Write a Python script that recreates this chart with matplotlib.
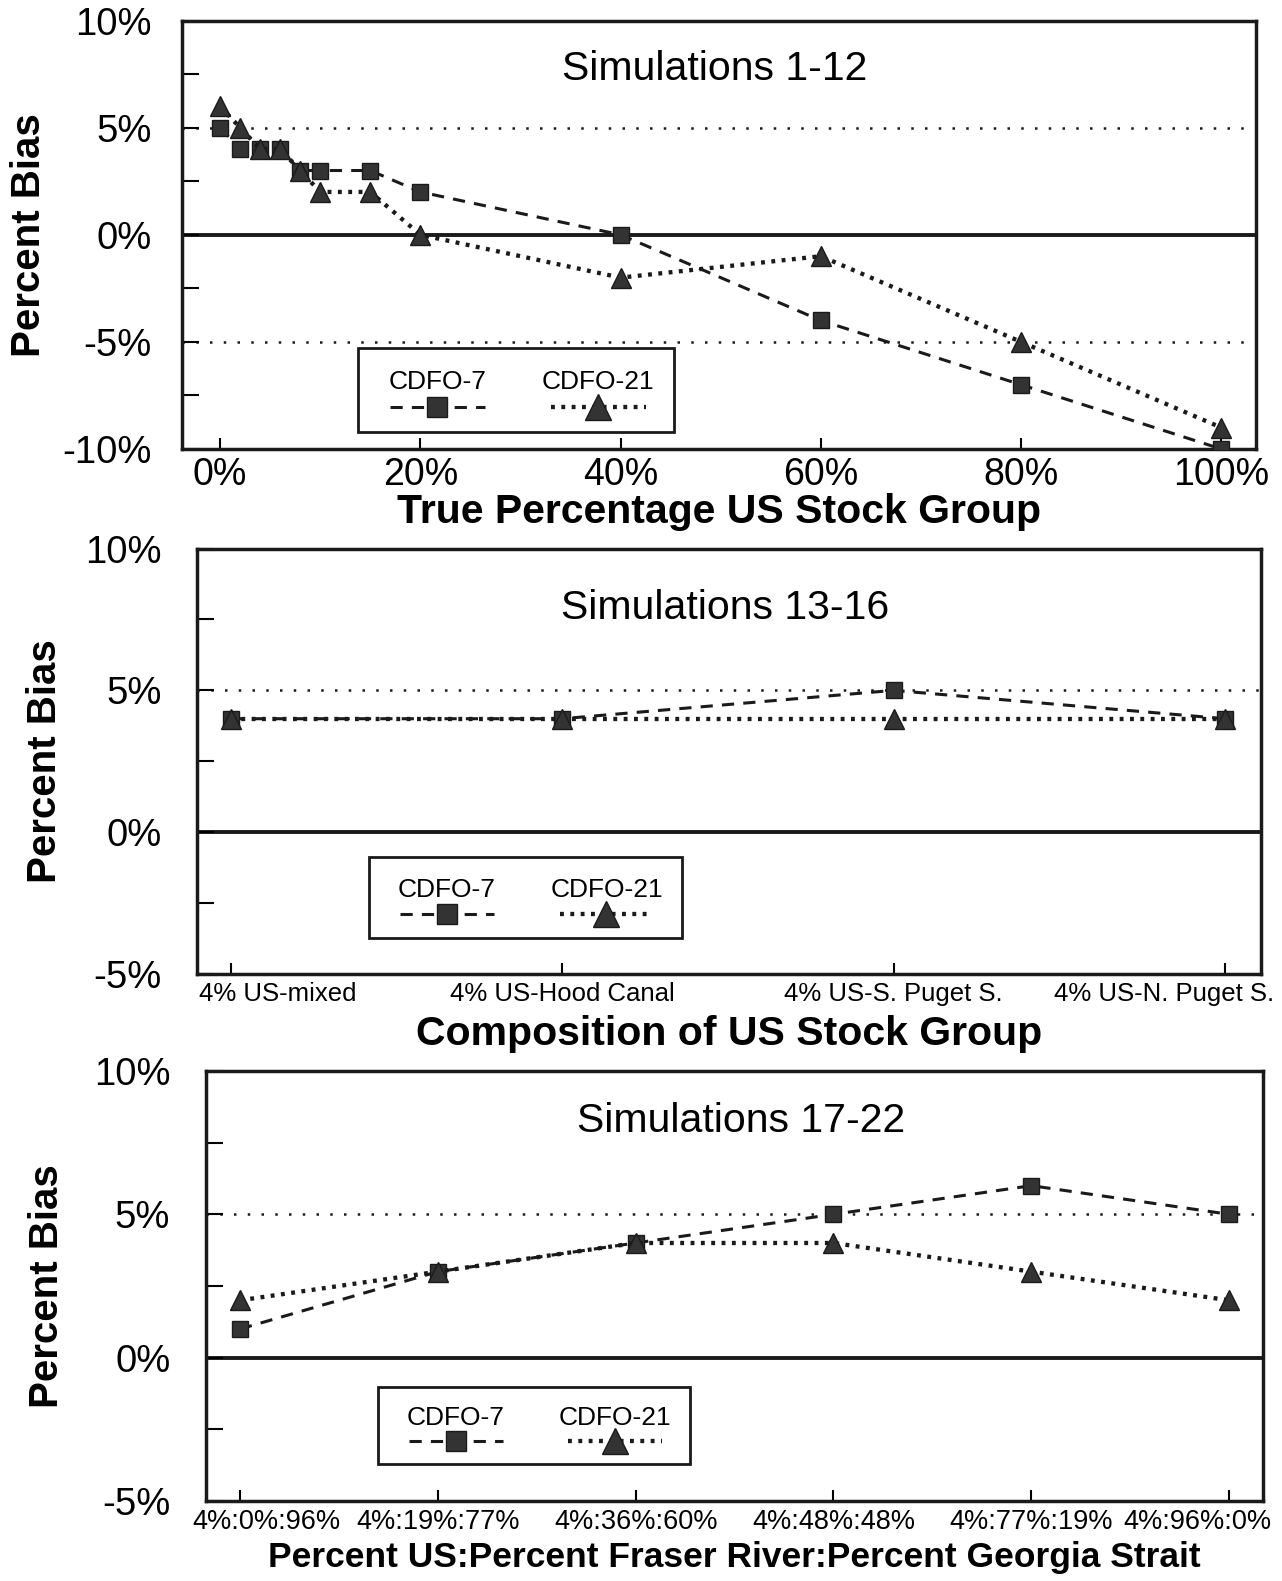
import numpy as np
import matplotlib
matplotlib.use('Agg')
import matplotlib.pyplot as plt
from matplotlib.patches import Rectangle
from matplotlib.ticker import MultipleLocator, FuncFormatter
from matplotlib.transforms import ScaledTranslation

plt.rcParams['font.family'] = ['Liberation Sans', 'DejaVu Sans']

# Simulations 1-12
top_x = [0, 2, 4, 6, 8, 10, 15, 20, 40, 60, 80, 100]
top_x_ticks = [0, 20, 40, 60, 80, 100]
top_cdfo7 = [5, 4, 4, 4, 3, 3, 3, 2, 0, -4, -7, -10]
top_cdfo21 = [6, 5, 4, 4, 3, 2, 2, 0, -2, -1, -5, -9]

# Simulations 13-16
mid_labels = ['4% US-mixed', '4% US-Hood Canal', '4% US-S. Puget S.', '4% US-N. Puget S.']
mid_cdfo7 = [4, 4, 5, 4]
mid_cdfo21 = [4, 4, 4, 4]

# Simulations 17-22
bot_labels = ['4%:0%:96%', '4%:19%:77%', '4%:36%:60%', '4%:48%:48%', '4%:77%:19%', '4%:96%:0%']
bot_cdfo7 = [1, 3, 4, 5, 6, 5]
bot_cdfo21 = [2, 3, 4, 4, 3, 2]

INK = '#1a1a1a'
MARK = '#333333'
style7 = dict(color=INK, lw=2.2, dashes=(4, 3), marker='s', ms=11.5,
              mfc=MARK, mec=INK, mew=1)
style21 = dict(color=INK, lw=3.1, dashes=(0.9, 1.5), marker='^', ms=14,
               mfc=MARK, mec=INK, mew=1)


def pct_fmt(v, pos):
    if abs(v % 5) < 1e-6:
        return f'{int(round(v))}%'
    return ''


def setup_axes(ax, ylo, yhi, refs, ypad, ylabpad):
    ax.set_ylim(ylo, yhi)
    ax.yaxis.set_major_locator(MultipleLocator(2.5))
    ax.yaxis.set_major_formatter(FuncFormatter(pct_fmt))
    ax.tick_params(axis='y', direction='in', length=12, width=1.5,
                   labelsize=27.5, pad=ypad)
    ax.tick_params(axis='x', direction='in', length=8, width=1.5)
    for s in ax.spines.values():
        s.set_linewidth(2.5)
        s.set_color(INK)
    ax.axhline(0, color=INK, lw=2.8, zorder=1)
    for r in refs:
        ax.axhline(r, color=INK, lw=1.8, dashes=(1, 4.5), zorder=1)
    ax.set_ylabel('Percent Bias', fontsize=29, fontweight='bold', labelpad=ylabpad)


def draw_legend(ax, x0, x1, y0, y1):
    ax.add_patch(Rectangle((x0, y0), x1 - x0, y1 - y0, transform=ax.transAxes,
                           fill=False, lw=2, ec=INK, zorder=5))
    w = x1 - x0
    h = y1 - y0
    ty = y0 + h * 0.6
    hy = y0 + h * 0.3
    for cx, name, st, ms in [(x0 + w * 0.25, 'CDFO-7', style7, 15),
                             (x0 + w * 0.76, 'CDFO-21', style21, 19)]:
        ax.text(cx, ty, name, transform=ax.transAxes, ha='center', va='center',
                fontsize=19, zorder=6)
        st = dict(st, ms=ms)
        ax.plot([cx - w * 0.15, cx, cx + w * 0.15], [hy, hy, hy],
                transform=ax.transAxes, markevery=[1], clip_on=False,
                zorder=6, **st)


def shift_label(lab, dx_px, ha, fig):
    lab.set_ha(ha)
    lab.set_transform(lab.get_transform() + ScaledTranslation(dx_px / 100, 0, fig.dpi_scale_trans))


fig = plt.figure(figsize=(12.82, 15.81), dpi=100)

# top panel
ax1 = fig.add_axes([0.142, 0.716, 0.838, 0.271])
setup_axes(ax1, -10, 10, [5, -5], 22, 10)
ax1.plot(top_x, top_cdfo7, zorder=3, **style7)
ax1.plot(top_x, top_cdfo21, zorder=4, **style21)
ax1.set_xlim(-3.8, 103.5)
ax1.set_xticks(top_x_ticks)
ax1.set_xticklabels([f'{v}%' for v in top_x_ticks], fontsize=27)
ax1.tick_params(axis='x', pad=6)
ax1.set_xlabel('True Percentage US Stock Group', fontsize=29.5, fontweight='bold', labelpad=0)
ax1.text(0.496, 0.887, 'Simulations 1-12', transform=ax1.transAxes,
         ha='center', va='center', fontsize=29.5)
draw_legend(ax1, 0.164, 0.458, 0.04, 0.235)

# middle panel
ax2 = fig.add_axes([0.154, 0.384, 0.830, 0.269])
setup_axes(ax2, -5, 10, [5], 26, 15)
mx = np.arange(1, len(mid_labels) + 1)
ax2.plot(mx, mid_cdfo7, zorder=3, **style7)
ax2.plot(mx, mid_cdfo21, zorder=4, **style21)
ax2.set_xlim(0.9, 4.11)
ax2.set_xticks(mx)
ax2.set_xticklabels(mid_labels, fontsize=18.5)
ax2.tick_params(axis='x', pad=6)
labs = ax2.get_xticklabels()
shift_label(labs[0], -32, 'left', fig)
shift_label(labs[-1], 49, 'right', fig)
ax2.set_xlabel('Composition of US Stock Group', fontsize=29.5, fontweight='bold', labelpad=6)
ax2.text(0.496, 0.86, 'Simulations 13-16', transform=ax2.transAxes,
         ha='center', va='center', fontsize=29.5)
draw_legend(ax2, 0.161, 0.455, 0.085, 0.274)

# bottom panel
ax3 = fig.add_axes([0.161, 0.0506, 0.824, 0.272])
setup_axes(ax3, -5, 10, [5], 26, 20)
bx = np.arange(1, len(bot_labels) + 1)
ax3.plot(bx, bot_cdfo7, zorder=3, **style7)
ax3.plot(bx, bot_cdfo21, zorder=4, **style21)
ax3.set_xlim(0.83, 6.17)
ax3.set_xticks(bx)
ax3.set_xticklabels(bot_labels, fontsize=19.5)
ax3.tick_params(axis='x', pad=6)
labs = ax3.get_xticklabels()
shift_label(labs[0], -48, 'left', fig)
shift_label(labs[-1], 42, 'right', fig)
ax3.set_xlabel('Percent US:Percent Fraser River:Percent Georgia Strait',
               fontsize=25.5, fontweight='bold', labelpad=4)
ax3.text(0.506, 0.883, 'Simulations 17-22', transform=ax3.transAxes,
         ha='center', va='center', fontsize=29.5)
draw_legend(ax3, 0.162, 0.458, 0.085, 0.265)

fig.savefig('out.png', dpi=100, facecolor='white')
